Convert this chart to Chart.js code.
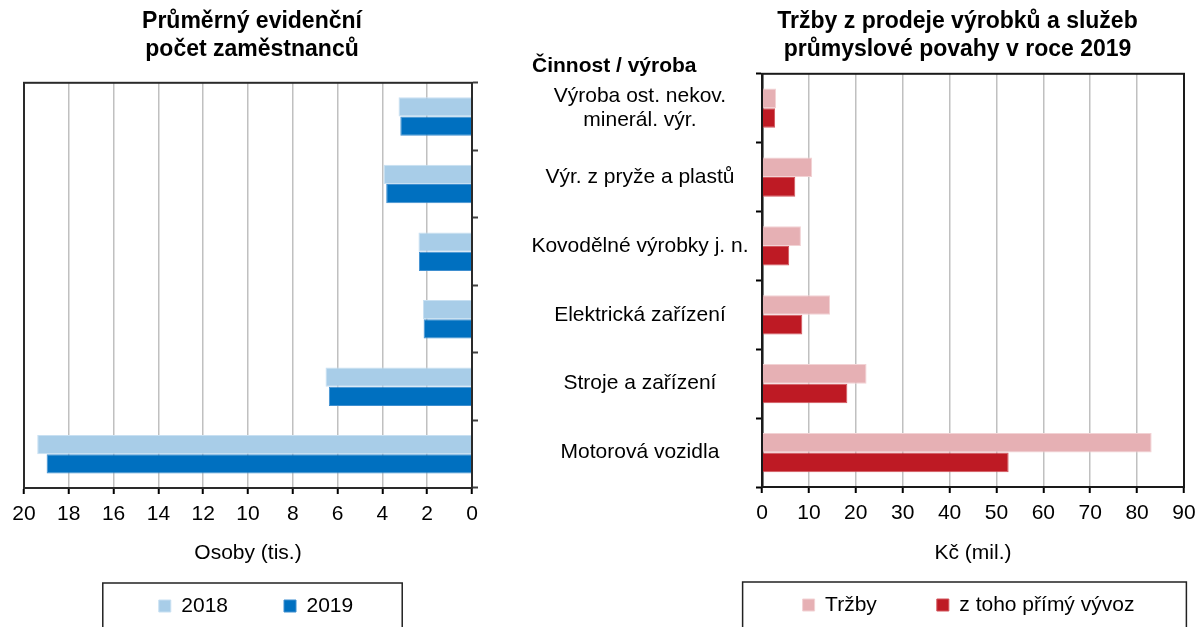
<!DOCTYPE html>
<html><head><meta charset="utf-8">
<script src="https://cdn.jsdelivr.net/npm/chart.js@4"></script>
<style>
html,body{margin:0;padding:0;background:#fff;}
#wrap{position:relative;width:1196px;height:627px;overflow:hidden;background:#fff;}
.box{position:absolute;top:0;height:627px;}
#b1{left:0;width:495px;}
#b2{left:500px;width:696px;}
</style></head><body>
<div id="wrap">
  <div class="box" id="b1"><canvas id="c1"></canvas></div>
  <div class="box" id="b2"><canvas id="c2"></canvas></div>
</div>
<script>
// ---- data ----
const categories = [["Výroba ost. nekov.", "minerál. výr."], "Výr. z pryže a plastů", "Kovodělné výrobky j. n.", "Elektrická zařízení", "Stroje a zařízení", "Motorová vozidla"];
const employees2018 = [3.28, 3.95, 2.39, 2.19, 6.54, 19.41];
const employees2019 = [3.20, 3.83, 2.37, 2.16, 6.39, 18.99];
const revenue = [3.0, 10.7, 8.3, 14.5, 22.3, 83.1];
const directExport = [2.8, 7.1, 5.8, 8.6, 18.2, 52.6];
const leftTitle = ["Průměrný evidenční", "počet zaměstnanců"];
const rightTitle = ["Tržby z prodeje výrobků a služeb", "průmyslové povahy v roce 2019"];
const leftAxisTitle = "Osoby (tis.)";
const rightAxisTitle = "Kč (mil.)";
const categoryHeader = "Činnost / výroba";

Chart.defaults.font.family = "'Liberation Sans', Arial, Helvetica, sans-serif";
Chart.defaults.color = '#000';

const framePlugin = {
  id: 'frame',
  afterDatasetsDraw(chart, args, opts) {
    const {ctx, chartArea: a} = chart;
    ctx.save();
    ctx.strokeStyle = opts.color || '#222';
    ctx.lineWidth = opts.width || 2;
    ctx.strokeRect(a.left, a.top, a.right - a.left, a.bottom - a.top);
    ctx.restore();
  }
};

const legendBoxPlugin = {
  id: 'legendBox',
  afterDraw(chart, args, opts) {
    const hb = chart.legend && chart.legend.legendHitBoxes;
    if (!hb || !hb.length) return;
    const first = hb[0], last = hb[hb.length - 1];
    const cy = first.top + first.height / 2;
    const ctx = chart.ctx;
    ctx.save();
    ctx.strokeStyle = '#222';
    ctx.lineWidth = 1.5;
    const l = first.left - opts.ml, r = last.left + last.width + opts.mr;
    ctx.strokeRect(l, cy - 23, r - l, 48);
    ctx.restore();
  }
};

const headerPlugin = {
  id: 'header',
  afterDraw(chart, args, opts) {
    if (!opts.text) return;
    const ctx = chart.ctx, a = chart.chartArea;
    ctx.save();
    ctx.font = "bold 21px 'Liberation Sans', Arial, sans-serif";
    ctx.fillStyle = '#000';
    ctx.textAlign = 'left';
    ctx.textBaseline = 'middle';
    ctx.fillText(opts.text, a.left - opts.dx, a.top - opts.dy);
    ctx.restore();
  }
};

// re-centre legend / title boxes after layout
const shiftPlugin = {
  id: 'shift',
  afterLayout(chart, args, opts) {
    if (opts.legend) {
      const l = chart.legend;
      l.left = opts.legend[0]; l.right = opts.legend[1]; l.width = l.right - l.left;
    }
    if (opts.title && chart.titleBlock) {
      const t = chart.titleBlock;
      t.left = opts.title[0]; t.right = opts.title[1]; t.width = t.right - t.left;
    }
  }
};

const common = {
  indexAxis: 'y',
  responsive: true,
  maintainAspectRatio: false,
  animation: false,
  events: []
};

new Chart(document.getElementById('c1'), {
  type: 'bar',
  data: {
    labels: categories,
    datasets: [
      {label: '2018', data: employees2018, backgroundColor: '#a8cde8', borderColor: '#c8e0f2', borderWidth: 1, categoryPercentage: 0.57, barPercentage: 1},
      {label: '2019', data: employees2019, backgroundColor: '#0070c0', borderColor: '#3f8fd0', borderWidth: 1, categoryPercentage: 0.57, barPercentage: 1}
    ]
  },
  options: Object.assign({}, common, {
    layout: {padding: {left: 24, right: 15, top: 0, bottom: 0.5}},
    plugins: {
      title: {display: true, text: leftTitle, color: '#000', font: {size: 23, weight: 'bold', lineHeight: 1.2}, padding: {top: 8, bottom: 19.6}},
      legend: {position: 'bottom', labels: {boxWidth: 12, boxHeight: 12, padding: 56, color: '#000', font: {size: 21}}},
      tooltip: {enabled: false},
      frame: {color: '#2a2a2a', width: 2},
      legendBox: {ml: 56, mr: 49},
      header: {},
      shift: {legend: [30, 482]}
    },
    scales: {
      x: {
        reverse: true, min: 0, max: 20,
        ticks: {stepSize: 2, padding: 7.4, color: '#000', font: {size: 21}},
        grid: {color: '#c0c0c0', lineWidth: 1.5, tickLength: 6, tickColor: '#000', tickWidth: 2},
        border: {color: '#000', width: 2},
        title: {display: true, text: leftAxisTitle, color: '#000', font: {size: 21}, padding: {top: 0, bottom: -26.1}},
        afterFit(s) { s.height = 51.5; s.paddingLeft = 0; s.paddingRight = 0; }
      },
      y: {
        position: 'right',
        ticks: {display: false},
        grid: {drawOnChartArea: false, offset: true, tickLength: 6, tickColor: '#404040', tickWidth: 2},
        border: {color: '#404040', width: 2},
        afterFit(s) { s.width = 8; s.paddingTop = 0; s.paddingBottom = 0; }
      }
    }
  }),
  plugins: [framePlugin, legendBoxPlugin, headerPlugin, shiftPlugin]
});

new Chart(document.getElementById('c2'), {
  type: 'bar',
  data: {
    labels: categories,
    datasets: [
      {label: 'Tržby', data: revenue, backgroundColor: '#e6b0b4', borderColor: '#f2d2d4', borderWidth: 1, categoryPercentage: 0.57, barPercentage: 1},
      {label: 'z toho přímý vývoz', data: directExport, backgroundColor: '#be1a24', borderColor: '#d2555c', borderWidth: 1, categoryPercentage: 0.57, barPercentage: 1}
    ]
  },
  options: Object.assign({}, common, {
    layout: {padding: {left: 0, right: 12, top: 0, bottom: 1.5}},
    plugins: {
      title: {display: true, text: rightTitle, color: '#000', font: {size: 23, weight: 'bold', lineHeight: 1.2}, padding: {top: 8, bottom: 10.6}},
      legend: {position: 'bottom', labels: {boxWidth: 12, boxHeight: 12, padding: 60, color: '#000', font: {size: 21}}},
      tooltip: {enabled: false},
      frame: {color: '#1a1a1a', width: 2},
      legendBox: {ml: 60, mr: 52},
      header: {text: categoryHeader, dx: 230, dy: 8},
      shift: {legend: [232, 705], title: [231, 684]}
    },
    scales: {
      x: {
        min: 0, max: 90,
        ticks: {stepSize: 10, padding: 7.4, color: '#000', font: {size: 21}},
        grid: {color: '#c0c0c0', lineWidth: 1.5, tickLength: 6, tickColor: '#000', tickWidth: 2},
        border: {color: '#000', width: 2},
        title: {display: true, text: rightAxisTitle, color: '#000', font: {size: 21}, padding: {top: 0, bottom: -31.1}},
        afterFit(s) { s.height = 47.5; s.paddingLeft = 0; s.paddingRight = 0; }
      },
      y: {
        position: 'left',
        ticks: {crossAlign: 'center', padding: 7.5, color: '#000', font: {size: 21, lineHeight: 1.15}, autoSkip: false},
        grid: {drawOnChartArea: false, offset: true, tickLength: 6, tickColor: '#000', tickWidth: 2},
        border: {color: '#000', width: 2.5},
        afterFit(s) { s.width = 262; s.paddingTop = 0; s.paddingBottom = 0; }
      }
    }
  }),
  plugins: [framePlugin, legendBoxPlugin, headerPlugin, shiftPlugin]
});
</script>
</body></html>
